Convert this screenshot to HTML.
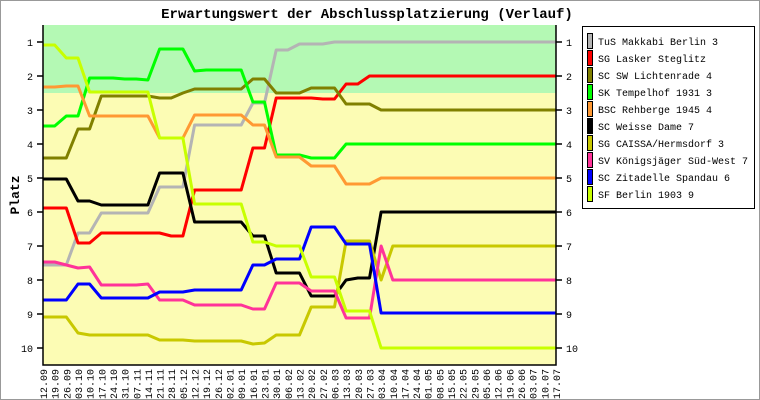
<!DOCTYPE html>
<html><head><meta charset="utf-8"><style>
html,body{margin:0;padding:0;background:#fff}
svg{display:block}
text{font-family:"Liberation Mono","DejaVu Sans Mono",monospace}
</style></head><body>
<svg id="s" width="760" height="400" viewBox="0 0 760 400" xmlns="http://www.w3.org/2000/svg">
<rect x="0.5" y="0.5" width="759" height="399" fill="#fff" stroke="#999"/>
<text x="367" y="18" text-anchor="middle" font-size="14" font-weight="bold">Erwartungswert der Abschlussplatzierung (Verlauf)</text>
<rect x="43" y="25" width="513" height="68" fill="#b4f9b4"/>
<rect x="43" y="93" width="513" height="272" fill="#fcfcb4"/>
<g id="lines" fill="none" stroke-width="3" stroke-linejoin="round"></g>
<path d="M43 25V365H556V25" fill="none" stroke="#000" stroke-width="1.5"/>
<g stroke="#000" stroke-width="1.5">
<path d="M37 42h6M37 76h6M37 110h6M37 144h6M37 178h6M37 212h6M37 246h6M37 280h6M37 314h6M37 348h6"/>
<path d="M556 42h6M556 76h6M556 110h6M556 144h6M556 178h6M556 212h6M556 246h6M556 280h6M556 314h6M556 348h6"/>
</g>
<g font-size="10" text-anchor="end">
<text x="33" y="46">1</text><text x="33" y="80">2</text><text x="33" y="114">3</text><text x="33" y="148">4</text><text x="33" y="182">5</text><text x="33" y="216">6</text><text x="33" y="250">7</text><text x="33" y="284">8</text><text x="33" y="318">9</text><text x="33" y="352">10</text>
</g>
<g font-size="10">
<text x="566" y="46">1</text><text x="566" y="80">2</text><text x="566" y="114">3</text><text x="566" y="148">4</text><text x="566" y="182">5</text><text x="566" y="216">6</text><text x="566" y="250">7</text><text x="566" y="284">8</text><text x="566" y="318">9</text><text x="566" y="352">10</text>
</g>
<text transform="translate(19,195) rotate(-90)" text-anchor="middle" font-size="13" font-weight="bold">Platz</text>
<g font-size="10" text-anchor="end">
<text transform="translate(47,369) rotate(-90)">12.09</text>
<text transform="translate(58.7,369) rotate(-90)">19.09</text>
<text transform="translate(70.3,369) rotate(-90)">26.09</text>
<text transform="translate(82,369) rotate(-90)">03.10</text>
<text transform="translate(93.6,369) rotate(-90)">10.10</text>
<text transform="translate(105.3,369) rotate(-90)">17.10</text>
<text transform="translate(117,369) rotate(-90)">24.10</text>
<text transform="translate(128.6,369) rotate(-90)">31.10</text>
<text transform="translate(140.3,369) rotate(-90)">07.11</text>
<text transform="translate(151.9,369) rotate(-90)">14.11</text>
<text transform="translate(163.6,369) rotate(-90)">21.11</text>
<text transform="translate(175.2,369) rotate(-90)">28.11</text>
<text transform="translate(186.9,369) rotate(-90)">05.12</text>
<text transform="translate(198.6,369) rotate(-90)">12.12</text>
<text transform="translate(210.2,369) rotate(-90)">19.12</text>
<text transform="translate(221.9,369) rotate(-90)">26.12</text>
<text transform="translate(233.5,369) rotate(-90)">02.01</text>
<text transform="translate(245.2,369) rotate(-90)">09.01</text>
<text transform="translate(256.9,369) rotate(-90)">16.01</text>
<text transform="translate(268.5,369) rotate(-90)">23.01</text>
<text transform="translate(280.2,369) rotate(-90)">30.01</text>
<text transform="translate(291.8,369) rotate(-90)">06.02</text>
<text transform="translate(303.5,369) rotate(-90)">13.02</text>
<text transform="translate(315.2,369) rotate(-90)">20.02</text>
<text transform="translate(326.8,369) rotate(-90)">27.02</text>
<text transform="translate(338.5,369) rotate(-90)">06.03</text>
<text transform="translate(350.1,369) rotate(-90)">13.03</text>
<text transform="translate(361.8,369) rotate(-90)">20.03</text>
<text transform="translate(373.5,369) rotate(-90)">27.03</text>
<text transform="translate(385.1,369) rotate(-90)">03.04</text>
<text transform="translate(396.8,369) rotate(-90)">10.04</text>
<text transform="translate(408.4,369) rotate(-90)">17.04</text>
<text transform="translate(420.1,369) rotate(-90)">24.04</text>
<text transform="translate(431.7,369) rotate(-90)">01.05</text>
<text transform="translate(443.4,369) rotate(-90)">08.05</text>
<text transform="translate(455.1,369) rotate(-90)">15.05</text>
<text transform="translate(466.7,369) rotate(-90)">22.05</text>
<text transform="translate(478.4,369) rotate(-90)">29.05</text>
<text transform="translate(490,369) rotate(-90)">05.06</text>
<text transform="translate(501.7,369) rotate(-90)">12.06</text>
<text transform="translate(513.4,369) rotate(-90)">19.06</text>
<text transform="translate(525,369) rotate(-90)">26.06</text>
<text transform="translate(536.7,369) rotate(-90)">03.07</text>
<text transform="translate(548.3,369) rotate(-90)">10.07</text>
<text transform="translate(560,369) rotate(-90)">17.07</text>
</g>
<rect x="582.5" y="26.5" width="172" height="182" fill="#fff" stroke="#000"/>
<g stroke="#000" stroke-width="1">
<rect x="587.5" y="33.5" width="5" height="15" fill="#b4b4b4"/>
<rect x="587.5" y="50.5" width="5" height="15" fill="#ff0000"/>
<rect x="587.5" y="67.5" width="5" height="15" fill="#808000"/>
<rect x="587.5" y="84.5" width="5" height="15" fill="#00ff00"/>
<rect x="587.5" y="101.5" width="5" height="15" fill="#ff9933"/>
<rect x="587.5" y="118.5" width="5" height="15" fill="#000000"/>
<rect x="587.5" y="135.5" width="5" height="15" fill="#c8c800"/>
<rect x="587.5" y="152.5" width="5" height="15" fill="#ff3399"/>
<rect x="587.5" y="169.5" width="5" height="15" fill="#0000ff"/>
<rect x="587.5" y="186.5" width="5" height="15" fill="#c8ff00"/>
</g>
<g font-size="10">
<text x="598" y="45">TuS Makkabi Berlin 3</text>
<text x="598" y="62">SG Lasker Steglitz</text>
<text x="598" y="79">SC SW Lichtenrade 4</text>
<text x="598" y="96">SK Tempelhof 1931 3</text>
<text x="598" y="113">BSC Rehberge 1945 4</text>
<text x="598" y="130">SC Weisse Dame 7</text>
<text x="598" y="147">SG CAISSA/Hermsdorf 3</text>
<text x="598" y="164">SV Königsjäger Süd-West 7</text>
<text x="598" y="181">SC Zitadelle Spandau 6</text>
<text x="598" y="198">SF Berlin 1903 9</text>
</g>
</svg>
<script>
var S=[
["#b4b4b4",[265,265,265,233,233,213,213,213,213,213,187,187,187,125,125,125,125,125,103,103,50,50,44,44,44,42]],
["#ff0000",[208,208,208,243,243,233,233,233,233,233,233,236,236,190,190,190,190,190,148,148,98,98,98,98,99,99,84,84,76]],
["#808000",[158,158,158,129,129,96,96,96,96,96,98,98,93,89,89,89,89,89,79,79,93,93,93,88,88,88,104,104,104,110]],
["#00ff00",[126,126,116,116,78,78,78,79,79,80,49,49,49,71,70,70,70,70,102,102,155,155,155,158,158,158,144]],
["#ff9933",[87,87,86,86,116,116,116,116,116,116,138,138,138,115,115,115,115,115,125,125,157,157,157,166,166,166,184,184,184,178]],
["#000000",[179,179,179,201,201,205,205,205,205,205,173,173,173,222,222,222,222,222,236,236,273,273,273,296,296,296,280,278,278,212]],
["#c8c800",[317,317,317,333,335,335,335,335,335,335,340,340,340,341,341,341,341,341,344,343,335,335,335,307,307,307,241,241,241,280,246]],
["#ff3399",[262,262,265,268,267,285,285,285,285,284,300,300,300,305,305,305,305,305,309,309,283,283,283,291,291,291,318,318,318,246,280]],
["#0000ff",[300,300,300,284,284,298,298,298,298,298,292,292,292,290,290,290,290,290,265,265,259,259,259,227,227,227,244,244,244,313]],
["#c8ff00",[45,45,58,58,92,92,92,92,92,92,138,138,138,204,204,204,204,204,242,242,246,246,246,277,277,277,311,311,311,348]]
];
var g=document.getElementById("lines");
S.forEach(function(s){var a=s[1],p=[];for(var i=0;i<45;i++){var y=i<a.length?a[i]:a[a.length-1];p.push((43+11.659*i).toFixed(1)+","+y);}
var e=document.createElementNS("http://www.w3.org/2000/svg","polyline");e.setAttribute("points",p.join(" "));e.setAttribute("stroke",s[0]);g.appendChild(e);});
</script>
</body></html>
